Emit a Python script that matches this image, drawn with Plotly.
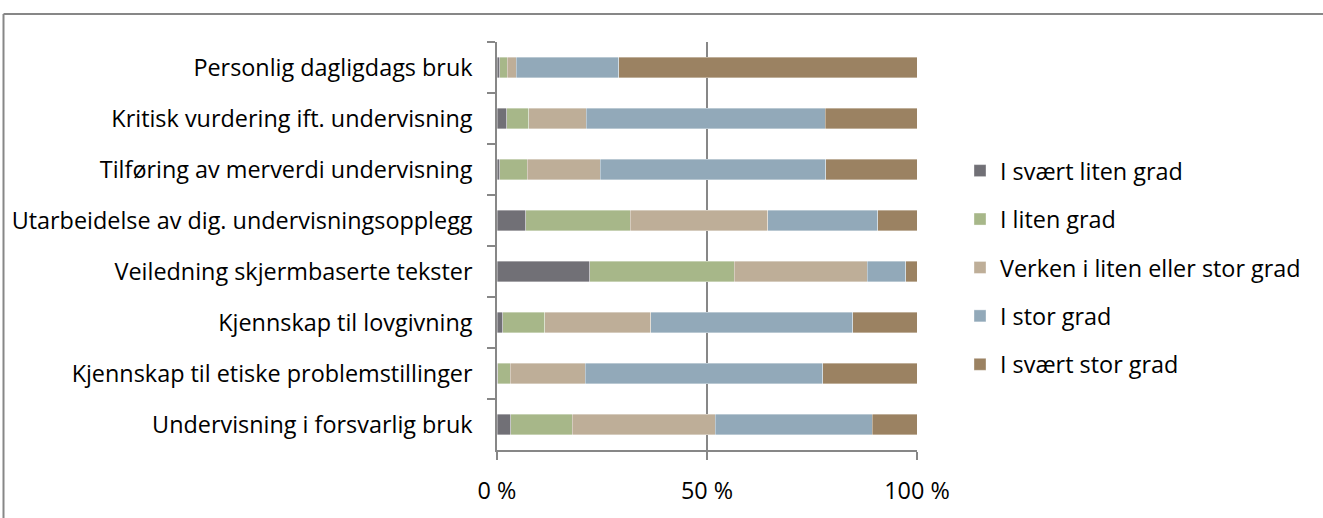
import plotly.graph_objects as go

# Categories, listed from top to bottom
categories = [
    "Personlig dagligdags bruk",
    "Kritisk vurdering ift. undervisning",
    "Tilføring av merverdi undervisning",
    "Utarbeidelse av dig. undervisningsopplegg",
    "Veiledning skjermbaserte tekster",
    "Kjennskap til lovgivning",
    "Kjennskap til etiske problemstillinger",
    "Undervisning i forsvarlig bruk",
]

series_names = [
    "I svært liten grad",
    "I liten grad",
    "Verken i liten eller stor grad",
    "I stor grad",
    "I svært stor grad",
]

# Percent shares per category (same order as categories)
svaert_liten = [0.6, 2.3, 0.7, 6.8, 22.1, 1.4, 0.2, 3.3]
liten = [1.8, 5.3, 6.5, 24.9, 34.4, 10.0, 2.9, 14.6]
verken = [2.2, 13.7, 17.4, 32.8, 31.7, 25.2, 17.9, 34.1]
stor = [24.4, 56.8, 53.7, 26.1, 9.1, 48.1, 56.6, 37.3]
svaert_stor = [71.0, 21.9, 21.7, 9.4, 2.7, 15.3, 22.4, 10.7]

x_tick_vals = [0, 50, 100]
x_tick_text = ["0 %", "50 %", "100 %"]

colors = ["#717076", "#a7b789", "#beae98", "#92a9b9", "#9b8262"]
values = [svaert_liten, liten, verken, stor, svaert_stor]

FONT = "Open Sans"
FS = 23.4
W, H = 1323, 518
ML, MR, MT, MB = 497, 406, 42, 60
PW, PH = W - ML - MR, H - MT - MB

fig = go.Figure()
for i, (name, vals, col) in enumerate(zip(series_names, values, colors)):
    fig.add_trace(go.Bar(
        y=categories,
        x=vals,
        name=name,
        orientation="h",
        legendgroup=f"g{i}",
        marker=dict(color=col, line=dict(color="rgba(255,255,255,0.6)", width=0.6)),
        hoverinfo="x+y+name",
    ))


def px_x(px):
    return (px - ML) / PW


def px_y(py):
    return 1 - (py - MT) / PH


grey = "#878787"
shapes = [
    # outer frame (top and left edges)
    dict(type="line", xref="paper", yref="paper", x0=px_x(3.5), x1=px_x(1340),
         y0=px_y(13.5), y1=px_y(13.5), line=dict(color=grey, width=2)),
    dict(type="line", xref="paper", yref="paper", x0=px_x(3.5), x1=px_x(3.5),
         y0=px_y(13.5), y1=px_y(540), line=dict(color=grey, width=2)),
]

fig.update_layout(
    width=W,
    height=H,
    barmode="stack",
    bargap=0.6,
    margin=dict(l=ML, r=MR, t=MT, b=MB, pad=0),
    paper_bgcolor="white",
    plot_bgcolor="white",
    font=dict(family=FONT, size=FS, color="#000000"),
    shapes=shapes,
    legend=dict(
        x=px_x(960), xanchor="left",
        y=px_y(151), yanchor="top",
        traceorder="grouped",
        tracegroupgap=15,
        font=dict(family=FONT, size=FS, color="#000000"),
        bgcolor="rgba(0,0,0,0)",
    ),
    xaxis=dict(
        range=[0, 100],
        tickvals=x_tick_vals,
        ticktext=x_tick_text,
        showgrid=True,
        gridcolor=grey,
        gridwidth=1.5,
        zeroline=False,
        showline=True,
        linecolor=grey,
        linewidth=1.5,
        ticks="outside",
        ticklen=8,
        tickcolor=grey,
        tickwidth=1.5,
        ticklabelstandoff=11,
        tickfont=dict(family=FONT, size=FS, color="#000000"),
    ),
    yaxis=dict(
        autorange="reversed",
        type="category",
        showgrid=False,
        zeroline=False,
        showline=True,
        linecolor=grey,
        linewidth=1.5,
        ticks="outside",
        tickson="boundaries",
        ticklen=8,
        tickcolor=grey,
        tickwidth=1.5,
        ticklabelstandoff=18,
        tickfont=dict(family=FONT, size=FS, color="#000000"),
    ),
)

fig.write_html("out.html")
